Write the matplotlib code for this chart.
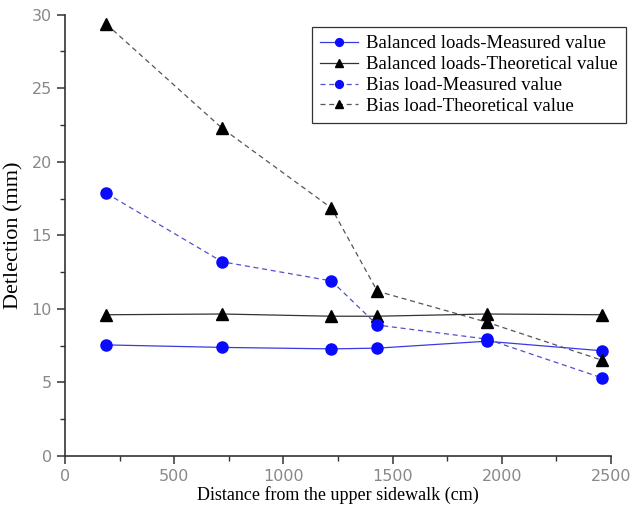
import matplotlib.pyplot as plt
from matplotlib.ticker import MultipleLocator

# distance from upper sidewalk (cm)
distance = [190, 720, 1220, 1430, 1930, 2460]

# deflection values (mm)
balanced_measured = [7.55, 7.38, 7.28, 7.33, 7.8, 7.15]
balanced_theory = [9.6, 9.65, 9.5, 9.5, 9.65, 9.6]
bias_measured = [17.85, 13.2, 11.9, 8.9, 7.95, 5.3]
bias_theory = [29.35, 22.27, 16.85, 11.2, 9.1, 6.5]

labels = ['Balanced loads-Measured value', 'Balanced loads-Theoretical value',
          'Bias load-Measured value', 'Bias load-Theoretical value']

fig = plt.figure(figsize=(6.3, 5.15), dpi=100)
ax = fig.add_axes([0.103, 0.1146, 0.867, 0.857])

ax.plot(distance, balanced_measured, color='#3a3ae0', lw=0.9, marker='o', ms=8,
        mfc='#0a0aff', mec='#0a0aff', label=labels[0])
ax.plot(distance, balanced_theory, color='#333333', lw=0.9, marker='^', ms=8,
        mfc='black', mec='black', label=labels[1])
ax.plot(distance, bias_measured, color='#5050d0', lw=0.9, ls=(0, (4, 3)), marker='o', ms=8,
        mfc='#0a0aff', mec='#0a0aff', label=labels[2])
ax.plot(distance, bias_theory, color='#555555', lw=0.9, ls=(0, (4, 3)), marker='^', ms=8,
        mfc='black', mec='black', label=labels[3])

ax.set_xlim(0, 2500)
ax.set_ylim(0, 30)
ax.xaxis.set_major_locator(MultipleLocator(500))
ax.xaxis.set_minor_locator(MultipleLocator(250))
ax.yaxis.set_major_locator(MultipleLocator(5))
ax.yaxis.set_minor_locator(MultipleLocator(2.5))

ax.spines['top'].set_visible(False)
ax.spines['right'].set_visible(False)
for s in ['left', 'bottom']:
    ax.spines[s].set_color('#333333')
    ax.spines[s].set_linewidth(1.2)

ax.tick_params(which='major', direction='out', length=6, width=1.1, color='#333333',
               labelsize=11.5, labelcolor='#888888')
ax.tick_params(which='minor', direction='out', length=3.5, width=1.0, color='#333333')
for lab in ax.get_xticklabels() + ax.get_yticklabels():
    lab.set_family('DejaVu Sans')

ax.set_xlabel('Distance from the upper sidewalk (cm)', family='Liberation Serif', fontsize=13, labelpad=1)
ax.set_ylabel('Detlection (mm)', family='Liberation Serif', fontsize=16, labelpad=6)

leg = ax.legend(loc='upper left', bbox_to_anchor=(0.495, 0.948), bbox_transform=fig.transFigure,
                prop={'family': 'Liberation Serif', 'size': 13.5}, fancybox=False,
                edgecolor='#333333', framealpha=1, handlelength=2.0, handletextpad=0.45,
                labelspacing=0.2, borderpad=0.45, borderaxespad=0, markerscale=0.7)
leg.get_frame().set_linewidth(0.9)

fig.savefig('out.png', dpi=100)
